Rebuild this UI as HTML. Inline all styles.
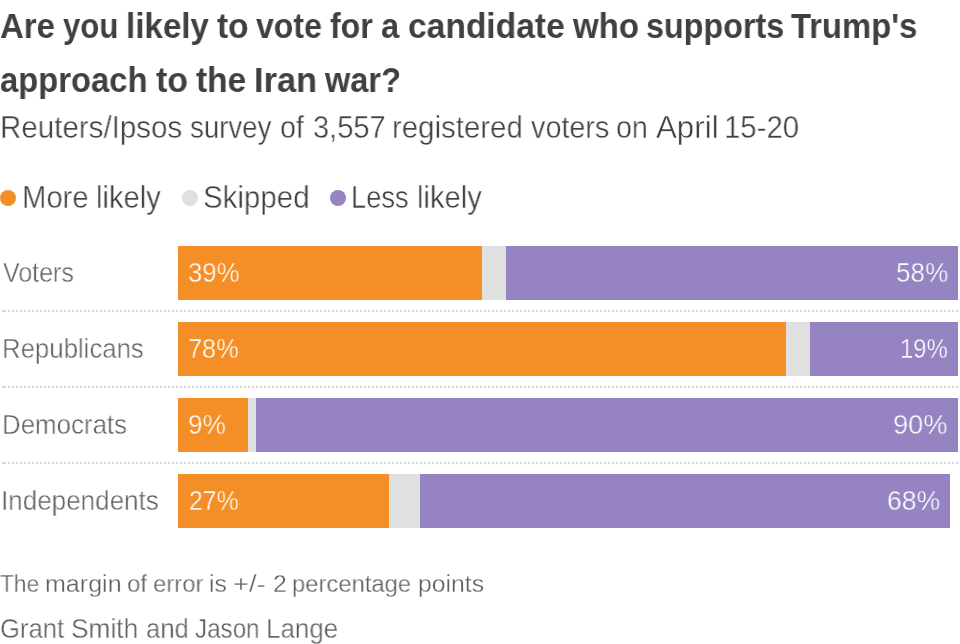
<!DOCTYPE html>
<html><head><meta charset="utf-8">
<style>
html,body{margin:0;padding:0;background:#fff;width:960px;height:644px;overflow:hidden;}
body{position:relative;font-family:"Liberation Sans",sans-serif;}
.t{position:absolute;white-space:nowrap;transform-origin:0 0;line-height:1;will-change:transform;}
.b{position:absolute;height:54px;}
.d{position:absolute;width:16px;height:16px;border-radius:50%;top:190px;}
.dl{position:absolute;left:8px;width:950px;height:2px;background-image:linear-gradient(to right,#d8d8d8 2px,transparent 2px);background-size:4px 2px;}
.dd{position:absolute;left:2px;width:4px;height:2px;background:#d8d8d8;}
.ttl{font-size:34.75px;font-weight:bold;color:#404040;}
.sub{font-size:30.75px;font-weight:normal;color:#404040;-webkit-text-stroke:0.4px #fff;}
.leg{font-size:30.5px;font-weight:normal;color:#404040;-webkit-text-stroke:0.4px #fff;}
.lab{font-size:27.25px;font-weight:normal;color:#606060;-webkit-text-stroke:0.45px #fff;}
.val{font-size:28.0px;font-weight:normal;color:#ffffff;-webkit-text-stroke:0.4px #fff;}
.foot{font-size:24.75px;font-weight:normal;color:#606060;-webkit-text-stroke:0.3px #fff;}
.foot2{font-size:26.75px;font-weight:normal;color:#606060;-webkit-text-stroke:0.35px #fff;}
.val.on{}
</style></head><body>
<div class="t ttl" style="left:-0.16px;top:8.9px;transform:scaleX(0.9498)">Are</div>
<div class="t ttl" style="left:62.55px;top:8.9px;transform:scaleX(0.8968)">you</div>
<div class="t ttl" style="left:125.65px;top:8.9px;transform:scaleX(0.954)">likely</div>
<div class="t ttl" style="left:216.55px;top:8.9px;transform:scaleX(0.9652)">to</div>
<div class="t ttl" style="left:256.03px;top:8.9px;transform:scaleX(0.9208)">vote</div>
<div class="t ttl" style="left:330.12px;top:8.9px;transform:scaleX(0.9243)">for</div>
<div class="t ttl" style="left:381.05px;top:8.9px;transform:scaleX(0.9357)">a</div>
<div class="t ttl" style="left:407.53px;top:8.9px;transform:scaleX(0.966)">candidate</div>
<div class="t ttl" style="left:572.51px;top:8.9px;transform:scaleX(0.9508)">who</div>
<div class="t ttl" style="left:645.86px;top:8.9px;transform:scaleX(0.9299)">supports</div>
<div class="t ttl" style="left:790.69px;top:8.9px;transform:scaleX(0.9439)">Trump&#39;s</div>
<div class="t ttl" style="left:0.34px;top:63.0px;transform:scaleX(0.9432)">approach</div>
<div class="t ttl" style="left:155.84px;top:63.0px;transform:scaleX(0.9782)">to</div>
<div class="t ttl" style="left:195.95px;top:63.0px;transform:scaleX(0.9635)">the</div>
<div class="t ttl" style="left:253.74px;top:63.0px;transform:scaleX(0.9889)">Iran</div>
<div class="t ttl" style="left:325.01px;top:63.0px;transform:scaleX(0.9355)">war?</div>
<div class="t sub" style="left:0.21px;top:112.8px;transform:scaleX(0.9605)">Reuters/Ipsos</div>
<div class="t sub" style="left:189.66px;top:112.8px;transform:scaleX(0.8979)">survey</div>
<div class="t sub" style="left:280.2px;top:112.8px;transform:scaleX(0.9338)">of</div>
<div class="t sub" style="left:312.79px;top:112.8px;transform:scaleX(0.9443)">3,557</div>
<div class="t sub" style="left:391.77px;top:112.8px;transform:scaleX(0.9565)">registered</div>
<div class="t sub" style="left:530.93px;top:112.8px;transform:scaleX(0.9361)">voters</div>
<div class="t sub" style="left:616.1px;top:112.8px;transform:scaleX(0.9304)">on</div>
<div class="t sub" style="left:656.14px;top:112.8px;transform:scaleX(1.0177)">April</div>
<div class="t sub" style="left:724.32px;top:112.8px;transform:scaleX(0.9549)">15-20</div>
<div class="d" style="left:0;background:#f48f27"></div>
<div class="d" style="left:182px;background:#e0e0e0"></div>
<div class="d" style="left:330px;background:#9583c2"></div>
<div class="t leg" style="left:21.97px;top:181.7px;transform:scaleX(0.9589)">More</div>
<div class="t leg" style="left:96.17px;top:181.7px;transform:scaleX(0.9563)">likely</div>
<div class="t leg" style="left:202.94px;top:181.7px;transform:scaleX(0.9671)">Skipped</div>
<div class="t leg" style="left:351.34px;top:181.7px;transform:scaleX(0.8931)">Less</div>
<div class="t leg" style="left:416.67px;top:181.7px;transform:scaleX(0.9563)">likely</div>
<div class="b" style="left:178.0px;top:246px;width:304.20px;background:#f48f27"></div>
<div class="b" style="left:482.20px;top:246px;width:23.40px;background:#e0e0e0"></div>
<div class="b" style="left:505.60px;top:246px;width:452.40px;background:#9583c2"></div>
<div class="dl" style="top:310px"></div><div class="dd" style="top:310px"></div>
<div class="t lab" style="left:2.53px;top:258.7px;transform:scaleX(0.9152)">Voters</div>
<div class="t val" style="left:188.17px;top:259.3px;transform:scaleX(0.9181);-webkit-text-stroke-color:#f48f27">39%</div>
<div class="t val" style="left:895.6px;top:259.3px;transform:scaleX(0.9321);-webkit-text-stroke-color:#9583c2">58%</div>
<div class="b" style="left:178.0px;top:322px;width:608.40px;background:#f48f27"></div>
<div class="b" style="left:786.40px;top:322px;width:23.40px;background:#e0e0e0"></div>
<div class="b" style="left:809.80px;top:322px;width:148.20px;background:#9583c2"></div>
<div class="dl" style="top:386px"></div><div class="dd" style="top:386px"></div>
<div class="t lab" style="left:1.64px;top:334.7px;transform:scaleX(0.9453)">Republicans</div>
<div class="t val" style="left:187.67px;top:335.3px;transform:scaleX(0.9018);-webkit-text-stroke-color:#f48f27">78%</div>
<div class="t val" style="left:900.16px;top:335.3px;transform:scaleX(0.8496);-webkit-text-stroke-color:#9583c2">19%</div>
<div class="b" style="left:178.0px;top:398px;width:70.20px;background:#f48f27"></div>
<div class="b" style="left:248.20px;top:398px;width:7.80px;background:#e0e0e0"></div>
<div class="b" style="left:256.00px;top:398px;width:702.00px;background:#9583c2"></div>
<div class="dl" style="top:462px"></div><div class="dd" style="top:462px"></div>
<div class="t lab" style="left:1.64px;top:410.7px;transform:scaleX(0.9492)">Democrats</div>
<div class="t val" style="left:187.88px;top:411.2px;transform:scaleX(0.9352);-webkit-text-stroke-color:#f48f27">9%</div>
<div class="t val" style="left:893.43px;top:411.2px;transform:scaleX(0.9713);-webkit-text-stroke-color:#9583c2">90%</div>
<div class="b" style="left:178.0px;top:474px;width:210.60px;background:#f48f27"></div>
<div class="b" style="left:388.60px;top:474px;width:31.20px;background:#e0e0e0"></div>
<div class="b" style="left:419.80px;top:474px;width:530.40px;background:#9583c2"></div>
<div class="t lab" style="left:1.08px;top:486.7px;transform:scaleX(0.9554)">Independents</div>
<div class="t val" style="left:188.52px;top:487.2px;transform:scaleX(0.8828);-webkit-text-stroke-color:#f48f27">27%</div>
<div class="t val" style="left:886.8px;top:487.2px;transform:scaleX(0.9484);-webkit-text-stroke-color:#9583c2">68%</div>
<div class="t foot" style="left:0.05px;top:571.9px;transform:scaleX(0.9172)">The</div>
<div class="t foot" style="left:44.7px;top:571.9px;transform:scaleX(1.0123)">margin</div>
<div class="t foot" style="left:127.11px;top:571.9px;transform:scaleX(0.9695)">of</div>
<div class="t foot" style="left:153.22px;top:571.9px;transform:scaleX(0.967)">error</div>
<div class="t foot" style="left:208.56px;top:571.9px;transform:scaleX(0.988)">is</div>
<div class="t foot" style="left:232.63px;top:571.9px;transform:scaleX(1.1054)">+/-</div>
<div class="t foot" style="left:272.94px;top:571.9px;transform:scaleX(0.9963)">2</div>
<div class="t foot" style="left:292.21px;top:571.9px;transform:scaleX(0.9615)">percentage</div>
<div class="t foot" style="left:417.66px;top:571.9px;transform:scaleX(0.9926)">points</div>
<div class="t foot2" style="left:-0.15px;top:615.8px;transform:scaleX(0.9595)">Grant</div>
<div class="t foot2" style="left:70.75px;top:615.8px;transform:scaleX(0.9824)">Smith</div>
<div class="t foot2" style="left:146.3px;top:615.8px;transform:scaleX(0.9579)">and</div>
<div class="t foot2" style="left:195.08px;top:615.8px;transform:scaleX(0.9028)">Jason</div>
<div class="t foot2" style="left:265.6px;top:615.8px;transform:scaleX(0.9687)">Lange</div>
</body></html>
